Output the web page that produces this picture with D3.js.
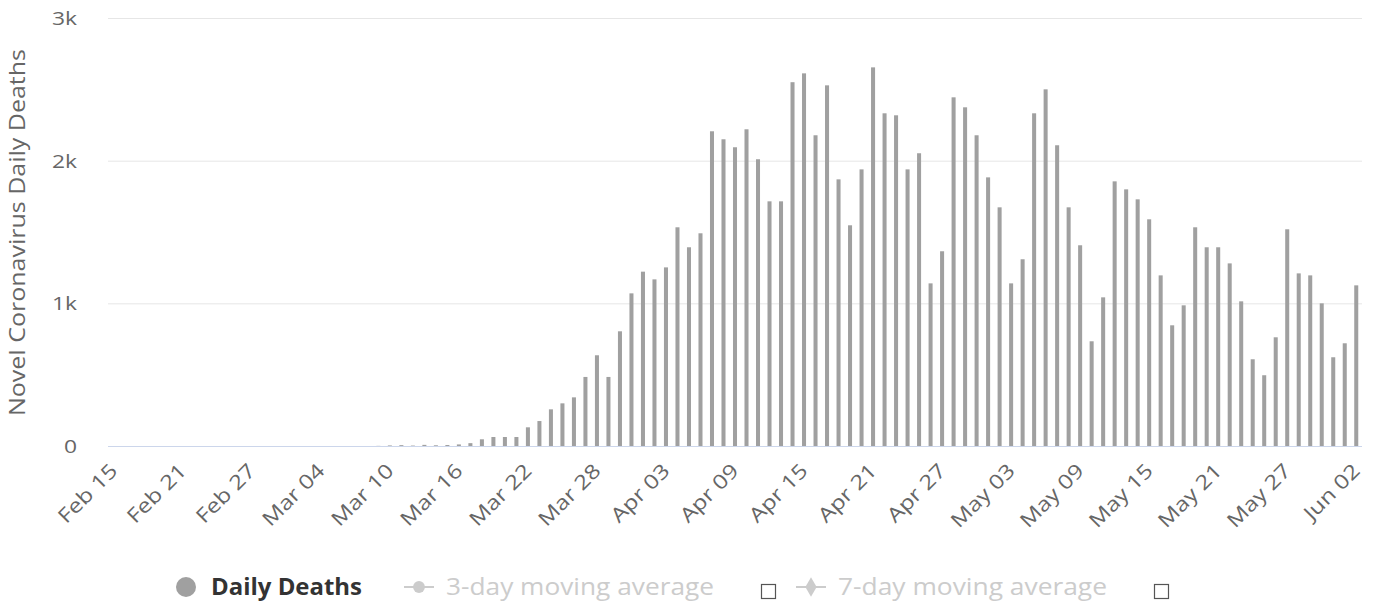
<!DOCTYPE html>
<html>
<head>
<meta charset="utf-8">
<title>Novel Coronavirus Daily Deaths</title>
<style>
body { margin: 0; background: #fff; }
svg { display: block; font-family: "Open Sans", sans-serif; }
.grid line { stroke: #e6e6e6; stroke-width: 1; }
.tick-label { fill: #666; }
</style>
</head>
<body>
<svg></svg>
<script src="https://d3js.org/d3.v7.min.js"></script>
<script>
// daily deaths, one value per day starting Feb 15
const startDate = '2020-02-15';
const dailyDeaths = [
  0, 0, 0, 0, 0, 0, 0, 0, 0, 0, 0, 0, 0, 0,          // Feb 15 - Feb 28
  0, 0, 0, 0, 0, 0, 0, 0, 0, 1,                       // Feb 29 - Mar 09
  4, 6, 3, 8, 5, 7, 11, 20, 47, 63, 63, 63,           // Mar 10 - Mar 21
  131, 175, 257, 299, 341, 484, 636, 484, 804, 1070,  // Mar 22 - Mar 31
  1222, 1168, 1252, 1533, 1393, 1491, 2206, 2150, 2094, 2220,
  2010, 1715, 1715, 2550, 2612, 2178, 2528, 1869, 1547, 1939,
  2654, 2332, 2318, 1939, 2052, 1140, 1365, 2444, 2374, 2178,  // Apr
  1883, 1673, 1140, 1309, 2332, 2500, 2108, 1673, 1407, 734,
  1042, 1855, 1799, 1729, 1589, 1196, 846, 986, 1533, 1393,
  1393, 1280, 1014, 608, 496, 762, 1519, 1210, 1196, 1000, 622, // May
  720, 1126                                                     // Jun
];
const tickLabels = ['Feb 15','Feb 21','Feb 27','Mar 04','Mar 10','Mar 16','Mar 22','Mar 28',
  'Apr 03','Apr 09','Apr 15','Apr 21','Apr 27','May 03','May 09','May 15','May 21','May 27','Jun 02'];
const yTicks = [0, 1000, 2000, 3000];
const legendItems = ['Daily Deaths', '3-day moving average', '7-day moving average'];

const W = 1378, H = 605;
const plot = { left: 108, right: 1362, top: 18, bottom: 446 };
const wide = 1.2; // the source font runs wider than Open Sans

const fmt = d3.utcFormat('%b %d');
const t0 = new Date(startDate + 'T00:00:00Z');
const data = dailyDeaths.map((v, i) => ({ date: fmt(d3.utcDay.offset(t0, i)), value: v }));

const svg = d3.select('svg').attr('width', W).attr('height', H);

// stretch a text element to a given length (or by a factor)
function stretch(sel, target) {
  sel.each(function() {
    const len = this.getComputedTextLength();
    const t = typeof target === 'number' ? target : len * wide;
    d3.select(this).attr('textLength', t).attr('lengthAdjust', 'spacingAndGlyphs');
  });
}

const x = d3.scaleBand()
  .domain(data.map(d => d.date))
  .range([plot.left, plot.right])
  .paddingInner(0.65)
  .paddingOuter(0.325);

const y = d3.scaleLinear().domain([0, 3000]).range([plot.bottom, plot.top]);

// grid
svg.append('g').attr('class', 'grid')
  .selectAll('line')
  .data(yTicks.filter(d => d > 0))
  .join('line')
  .attr('x1', plot.left).attr('x2', plot.right)
  .attr('y1', d => y(d) + 0.5).attr('y2', d => y(d) + 0.5);

// y axis labels
svg.append('g')
  .selectAll('text')
  .data(yTicks)
  .join('text')
  .attr('class', 'tick-label')
  .attr('x', 77)
  .attr('y', d => y(d) + 7)
  .attr('text-anchor', 'end')
  .style('font-size', '19px')
  .text(d => d3.format('~s')(d))
  .call(stretch);

svg.append('text')
  .attr('transform', `translate(25, ${(plot.top + plot.bottom) / 2 + 0.5}) rotate(-90)`)
  .attr('text-anchor', 'middle')
  .attr('fill', '#666')
  .style('font-size', '21px')
  .text('Novel Coronavirus Daily Deaths')
  .call(stretch, 367);

// bars
svg.append('g')
  .selectAll('rect')
  .data(data)
  .join('rect')
  .attr('x', d => x(d.date))
  .attr('width', x.bandwidth())
  .attr('y', d => y(d.value))
  .attr('height', d => y(0) - y(d.value))
  .attr('fill', '#a0a0a0');

// x axis line
svg.append('line')
  .attr('x1', plot.left).attr('x2', plot.right)
  .attr('y1', y(0) + 0.5).attr('y2', y(0) + 0.5)
  .attr('stroke', '#ccd6eb');

// x tick labels
svg.append('g')
  .selectAll('text')
  .data(tickLabels)
  .join('text')
  .attr('class', 'tick-label')
  .attr('text-anchor', 'end')
  .style('font-size', '20px')
  .attr('transform', d => `translate(${x(d) + x.bandwidth() / 2 + 5}, 472) rotate(-45)`)
  .text(d => d)
  .call(stretch);

// legend
const lg = svg.append('g');
const ly = 587;
lg.append('circle').attr('cx', 186).attr('cy', ly).attr('r', 10).attr('fill', '#a0a0a0');
lg.append('text').attr('x', 211).attr('y', ly + 8)
  .attr('fill', '#333').style('font-size', '23px').style('font-weight', 'bold')
  .text(legendItems[0])
  .call(stretch, 151);

const hidden = [
  { x: 404, label: legendItems[1], marker: d3.symbolCircle, box: 761, len: 268 },
  { x: 796, label: legendItems[2], marker: d3.symbolDiamond, box: 1154, len: 269 }
];
hidden.forEach(h => {
  lg.append('line').attr('x1', h.x).attr('x2', h.x + 30)
    .attr('y1', ly).attr('y2', ly).attr('stroke', '#ccc').attr('stroke-width', 2);
  lg.append('path')
    .attr('d', d3.symbol(h.marker, 110)())
    .attr('transform', `translate(${h.x + 15},${ly})`)
    .attr('fill', '#ccc');
  lg.append('text').attr('x', h.x + 42).attr('y', ly + 8)
    .attr('fill', '#ccc').style('font-size', '23px')
    .text(h.label)
    .call(stretch, h.len);
  lg.append('rect').attr('x', h.box + 0.5).attr('y', ly - 2.5).attr('width', 14).attr('height', 14)
    .attr('fill', '#fff').attr('stroke', '#555').attr('stroke-width', 1.2);
});
</script>
</body>
</html>
